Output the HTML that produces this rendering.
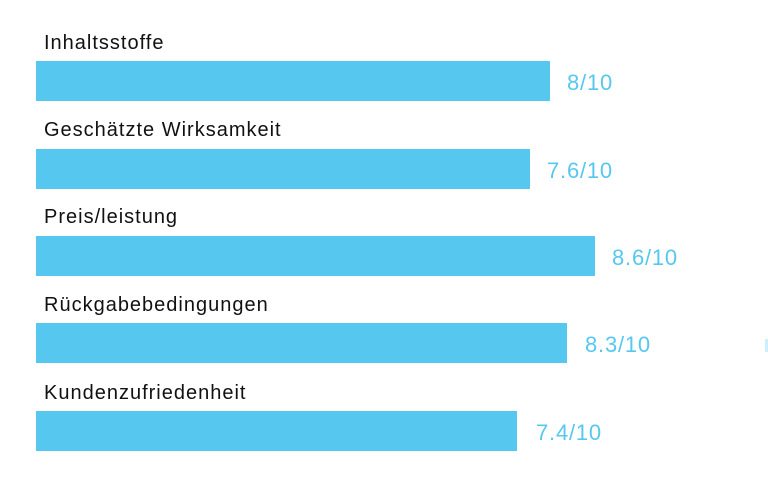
<!DOCTYPE html>
<html><head><style>
body{margin:0;width:768px;height:494px;background:#fff;position:relative;overflow:hidden;font-family:"Liberation Sans",sans-serif}
.l{position:absolute;left:44px;font-size:20px;letter-spacing:1px;color:#111;line-height:1}
.b{position:absolute;left:36px;height:40px;background:#56c8ef}
.v{position:absolute;font-size:22px;letter-spacing:0.8px;color:#56c8ef;line-height:1}
</style></head><body>
<div class="l" style="top:33px">Inhaltsstoffe</div>
<div class="b" style="top:61px;width:514px"></div>
<div class="v" style="top:72px;left:567px">8/10</div>
<div class="l" style="top:120px">Geschätzte Wirksamkeit</div>
<div class="b" style="top:149px;width:494px"></div>
<div class="v" style="top:160px;left:547px">7.6/10</div>
<div class="l" style="top:207px">Preis/leistung</div>
<div class="b" style="top:236px;width:559px"></div>
<div class="v" style="top:247px;left:612px">8.6/10</div>
<div class="l" style="top:295px">Rückgabebedingungen</div>
<div class="b" style="top:323px;width:531px"></div>
<div class="v" style="top:334px;left:585px">8.3/10</div>
<div class="l" style="top:383px">Kundenzufriedenheit</div>
<div class="b" style="top:411px;width:481px"></div>
<div class="v" style="top:422px;left:536px">7.4/10</div>
<div style="position:absolute;left:765px;top:339px;width:3px;height:13px;background:#cdeefa"></div>
</body></html>
